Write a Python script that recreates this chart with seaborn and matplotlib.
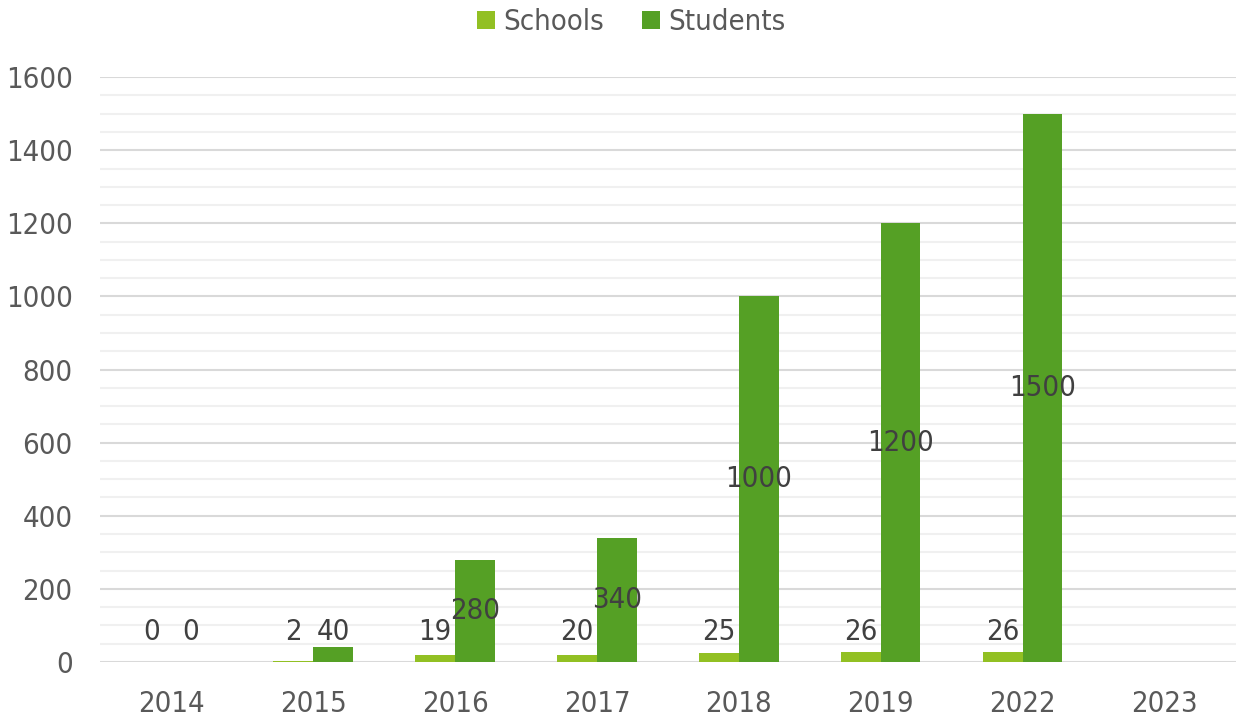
import numpy as np
import pandas as pd
import seaborn as sns
import matplotlib.pyplot as plt
from matplotlib.ticker import MultipleLocator

years = ["2014", "2015", "2016", "2017", "2018", "2019", "2022", "2023"]
schools = [0, 2, 19, 20, 25, 26, 26, np.nan]
students = [0, 40, 280, 340, 1000, 1200, 1500, np.nan]

df = pd.DataFrame({
    "Year": years * 2,
    "Value": schools + students,
    "Series": ["Schools"] * len(years) + ["Students"] * len(years),
})

sns.set_style("white")
plt.rcParams['font.family'] = ['DejaVu Sans']
plt.rcParams['font.stretch'] = 'condensed'

fig = plt.figure(figsize=(12.38, 7.21), dpi=100)
ax = fig.add_axes([0.081, 0.082, 0.917, 0.811])

sns.barplot(data=df, x="Year", y="Value", hue="Series", order=years,
            palette=["#92C023", "#55A025"], width=0.56, saturation=1,
            linewidth=0, legend=True, ax=ax, zorder=3)

ax.set_ylim(0, 1600)
ax.set_xlim(-0.5, 7.5)
ax.yaxis.set_major_locator(MultipleLocator(200))
ax.yaxis.set_minor_locator(MultipleLocator(50))
ax.grid(which="major", axis="y", color="#D9D9D9", linewidth=1.5, zorder=0)
ax.grid(which="minor", axis="y", color="#F0F0F0", linewidth=1.5, zorder=0)
ax.grid(axis="x", visible=False)
ax.set_axisbelow(True)
for s in ax.spines.values():
    s.set_visible(False)
ax.tick_params(axis="both", which="both", length=0, labelsize=21,
               labelcolor="#595959")
ax.tick_params(axis="y", pad=20)
ax.tick_params(axis="x", pad=20)
ax.set_xlabel("")
ax.set_ylabel("")

# data labels, centred on bar but kept above the axis for short bars
for cont in ax.containers:
    for bar in cont:
        h = bar.get_height()
        if np.isnan(h):
            continue
        ax.text(bar.get_x() + bar.get_width() / 2, max(h / 2, 82), f"{int(h)}",
                ha="center", va="center", fontsize=21, color="#404040",
                zorder=5)

handles, labels = ax.get_legend_handles_labels()
ax.legend_.remove()
fig.legend(handles, labels, loc="upper center", bbox_to_anchor=(0.51, 1.025),
           ncol=2, frameon=False, fontsize=21, labelcolor="#595959",
           handlelength=0.6, handleheight=0.6, handletextpad=0.3,
           columnspacing=1.3)

fig.savefig("out.png", dpi=100)
